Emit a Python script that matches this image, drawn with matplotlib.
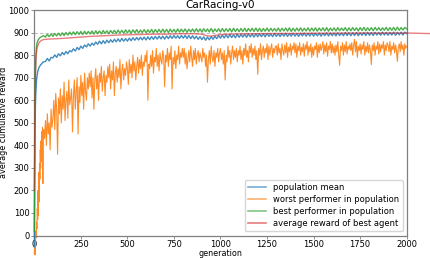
import matplotlib
matplotlib.use('Agg')
import matplotlib.pyplot as plt

# ---------------- data ----------------
gen_early = [0, 1, 2, 3, 4, 5, 6, 8, 10, 12, 15, 18, 21, 25, 30, 35, 40, 45, 50]
gen_late = list(range(60, 2001, 10))
gens = gen_early + gen_late

mean_early = [-50, 100, 280, 400, 480, 540, 580, 630, 660, 690, 710, 725, 735, 745, 752, 758, 762, 768, 770]
mean_late = [
    772, 785, 774, 790,
    788, 801, 790, 806, 797, 812, 802, 816, 806, 820,
    815, 828, 818, 834, 824, 840, 830, 845, 836, 850,
    840, 853, 844, 858, 848, 862, 850, 864, 852, 866,
    855, 868, 857, 870, 859, 872, 860, 874, 862, 873,
    862, 875, 864, 877, 866, 878, 867, 879, 868, 880,
    867, 881, 869, 882, 870, 883, 871, 884, 872, 884,
    871, 885, 873, 886, 874, 887, 875, 886, 874, 887,
    875, 888, 874, 887, 873, 886, 872, 884, 870, 882,
    869, 881, 866, 880, 868, 882, 870, 884, 873, 887,
    875, 889, 876, 890, 877, 891, 878, 890, 877, 892,
    879, 892, 880, 893, 879, 894, 881, 893, 880, 895,
    881, 894, 882, 895, 881, 896, 883, 894, 882, 896,
    883, 895, 882, 896, 884, 897, 883, 895, 884, 897,
    884, 896, 883, 897, 885, 898, 884, 896, 885, 898,
    884, 897, 885, 898, 884, 897, 886, 899, 885, 898,
    886, 898, 885, 899, 887, 898, 886, 900, 887, 899,
    886, 899, 887, 900, 886, 899, 888, 900, 887, 901,
    888, 900, 887, 901, 889, 900, 888, 902, 889, 901,
    888, 901, 889, 902, 888, 901, 890, 902, 889, 902,
    896,
]

best_early = [20, 150, 350, 500, 600, 680, 730, 790, 820, 840, 855, 862, 868, 872, 877, 880, 882, 885, 886]
best_late = [
    880, 892, 882, 894,
    883, 896, 885, 897, 886, 899, 887, 900, 889, 902,
    890, 903, 891, 904, 892, 905, 891, 906, 893, 905,
    894, 907, 893, 908, 895, 907, 894, 909, 896, 908,
    895, 909, 897, 910, 896, 911, 898, 910, 897, 912,
    898, 911, 897, 912, 899, 913, 898, 911, 900, 913,
    899, 912, 900, 914, 899, 913, 901, 914, 900, 915,
    901, 914, 900, 915, 902, 914, 901, 916, 902, 915,
    902, 916, 901, 915, 903, 916, 902, 917, 903, 916,
    902, 917, 904, 916, 903, 918, 902, 916, 904, 917,
    903, 918, 904, 917, 905, 918, 903, 919, 905, 917,
    904, 918, 905, 919, 904, 918, 906, 919, 905, 920,
    905, 919, 904, 918, 906, 920, 905, 919, 906, 918,
    906, 920, 905, 919, 907, 920, 906, 921, 905, 919,
    906, 920, 907, 921, 906, 919, 907, 921, 906, 920,
    907, 921, 906, 920, 908, 921, 907, 922, 906, 920,
    908, 921, 907, 922, 908, 920, 909, 922, 907, 921,
    908, 922, 909, 921, 907, 922, 909, 923, 908, 921,
    909, 922, 908, 923, 910, 922, 909, 921, 910, 923,
    909, 922, 910, 923, 909, 924, 910, 922, 911, 923,
    916,
]

worst_gen_early = list(range(0, 50, 2))
worst_gen_late = list(range(50, 2001, 5))
worst_gens = worst_gen_early + worst_gen_late
worst_early = [-80, -40, -85, -30, 20, -10, 60, 30, 120, 70, 200, 90, 280,
               150, 320, 250, 380, 300, 420, 330, 460, 400, 480, 230, 440]
worst_late = [
    470, 430, 510, 400, 540, 450, 500, 380, 560, 480,
    520, 600, 470, 630, 560, 360, 610, 540, 650, 500, 620, 560, 680, 510, 600, 640, 520, 690, 580, 610,
    650, 460, 620, 690, 560, 640, 700, 450, 660, 590, 710, 620, 680, 560, 720, 640, 600, 700, 650, 720,
    660, 730, 610, 700, 560, 690, 740, 650, 710, 600, 720, 680, 750, 640, 700, 730, 620, 710, 680, 750,
    700, 760, 650, 730, 690, 770, 620, 720, 750, 680, 740, 700, 780, 650, 730, 760, 690, 740, 710, 770,
    740, 670, 780, 720, 760, 700, 800, 730, 770, 690, 750, 790, 720, 780, 740, 800, 710, 770, 750, 800,
    770, 820, 600, 760, 740, 800, 750, 820, 720, 790, 770, 830, 750, 800, 730, 810, 780, 760, 820, 790,
    660, 800, 770, 830, 750, 810, 780, 840, 650, 790, 760, 820, 740, 800, 780, 840, 760, 810, 790, 830,
    790, 830, 760, 810, 740, 780, 820, 770, 840, 790, 750, 820, 780, 830, 760, 800, 820, 770, 810, 790,
    770, 830, 790, 810, 750, 800, 680, 780, 820, 760, 840, 790, 770, 820, 750, 810, 790, 830, 770, 810,
    830, 780, 810, 760, 820, 690, 800, 770, 840, 790, 820, 760, 810, 840, 780, 820, 790, 830, 770, 820,
    800, 840, 780, 820, 760, 830, 800, 850, 790, 820, 770, 840, 810, 850, 790, 830, 800, 840, 780, 820,
    715, 830, 800, 850, 780, 820, 840, 790, 830, 810, 850, 780, 840, 800, 830, 850, 790, 830, 810, 840,
    840, 800, 850, 810, 830, 780, 850, 820, 800, 845, 810, 855, 790, 835, 815, 850, 800, 840, 825, 855,
    810, 850, 790, 840, 820, 855, 800, 835, 815, 850, 795, 845, 825, 860, 800, 840, 815, 850, 790, 835,
    800, 840, 825, 855, 790, 845, 810, 850, 820, 835, 860, 805, 845, 815, 855, 795, 840, 825, 860, 810,
    850, 810, 840, 800, 845, 815, 860, 800, 755, 840, 820, 855, 800, 845, 815, 860, 805, 840, 825, 850,
    820, 855, 800, 845, 870, 815, 860, 790, 840, 820, 850, 805, 845, 825, 860, 800, 840, 815, 855, 810,
    845, 820, 758, 845, 820, 855, 800, 840, 825, 860, 805, 850, 815, 845, 830, 860, 800, 845, 820, 855,
    845, 815, 860, 800, 840, 825, 855, 810, 845, 820, 772, 835, 850, 815, 860, 825, 845, 800, 850, 830,
    840,
]

agent_gens = [0, 2, 4, 6, 8, 10, 15, 20, 25, 30, 40, 50, 75, 100, 150, 200, 250,
              300, 350, 400, 450, 500, 550, 600, 650, 700, 750, 800, 850, 900,
              925, 950, 975, 1000, 1050, 1100, 1200, 1300, 1400, 1500, 1600,
              1700, 1800, 1900, 2000, 2100, 2200]
agent_vals = [200, 450, 600, 700, 760, 800, 830, 845, 855, 860, 866, 869, 871,
              872, 874, 877, 880, 883, 885, 887, 889, 890, 891, 892, 893, 893,
              894, 895, 895, 893, 886, 884, 888, 891, 893, 894, 895, 896, 896,
              897, 897, 898, 898, 898, 898, 896, 894]

labels = ["population mean", "worst performer in population",
          "best performer in population", "average reward of best agent"]
title = "CarRacing-v0"

# ---------------- plot ----------------
fig = plt.figure(figsize=(4.31, 2.58), dpi=100)
bottom, top = 0.087, 0.9612
ax = fig.add_axes([0.0796, bottom, 0.9436 - 0.0796, top - bottom])

ax.axhline(900, color='gray', ls='--', lw=0.8, alpha=0.5, dashes=(3, 2), zorder=1)
ax.plot(worst_gens, worst_early + worst_late, color='#ff7f0e', lw=0.8, alpha=0.9,
        label=labels[1], clip_on=False, zorder=2)
ax.plot(gens, mean_early + mean_late, color='#1f77b4', lw=1.0, alpha=0.85,
        label=labels[0], clip_on=False, zorder=3)
ax.plot(gens, best_early + best_late, color='#2ca02c', lw=1.0, alpha=0.85,
        label=labels[2], clip_on=False, zorder=3)
ax.plot(agent_gens, agent_vals, color='#d62728', lw=1.0, alpha=0.6,
        label=labels[3], clip_on=False, zorder=4)

ax.set_xlim(0, 2000)
ax.set_ylim(0, 1000)
ax.set_xticks([0, 250, 500, 750, 1000, 1250, 1500, 1750, 2000])
ax.set_yticks(range(0, 1001, 100))
ax.tick_params(labelsize=6, length=2.5, width=0.6, color='gray', pad=1)
for sp in ax.spines.values():
    sp.set_color('gray')
    sp.set_linewidth(0.9)

ax.set_title(title, fontsize=7.5, pad=1.5)
ax.set_xlabel("generation", fontsize=5.8, labelpad=0)
ax.set_ylabel("average cumulative reward", fontsize=5.8, labelpad=0.5)

h, l = ax.get_legend_handles_labels()
order = [1, 0, 2, 3]
leg = ax.legend([h[i] for i in order], [l[i] for i in order],
                loc='lower right', fontsize=6, framealpha=0.8,
                borderaxespad=0.5, handlelength=2.2, labelspacing=0.35)
for lh in leg.get_lines():
    lh.set_alpha(0.6)
    lh.set_linewidth(1.2)

fig.savefig("out.png", dpi=100)
